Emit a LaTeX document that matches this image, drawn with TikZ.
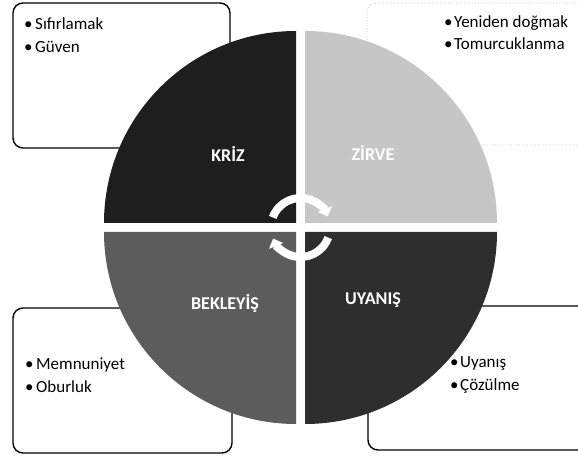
\documentclass[tikz,border=0pt]{standalone}
\usepackage{fontspec}
\setmainfont{Carlito}
\usetikzlibrary{arrows.meta}
\definecolor{krizc}{HTML}{1E1E1E}
\definecolor{zirvec}{HTML}{C6C6C6}
\definecolor{bekc}{HTML}{5C5C5C}
\definecolor{uyanc}{HTML}{2E2E2E}
\begin{document}
\begin{tikzpicture}[x=1pt,y=1pt,
  box/.style={draw=black, line width=1.4pt, rounded corners=10pt, fill=white, inner sep=0pt},
  faintbox/.style={draw=gray!55, line width=0.7pt, dotted, rounded corners=10pt, fill=white, inner sep=0pt},
  item/.style={anchor=base west, inner sep=0pt, font=\fontsize{17}{20}\selectfont},
  lab/.style={font=\bfseries\fontsize{18}{21}\selectfont, text=white, inner sep=0pt},
  cyc/.style={draw=white, line width=8pt, -{Triangle[width=15pt,length=8pt]}}]
\useasboundingbox (0,0) rectangle (578,457);
\clip (0,0) rectangle (578,457);
\fill[white] (0,0) rectangle (578,457);
% boxes
\node[box, minimum width=217pt, minimum height=145pt] (boxTL) at (121.5,381.5) {};
\node[faintbox, minimum width=243pt, minimum height=142pt] (boxTR) at (488.5,383) {};
\node[box, minimum width=219pt, minimum height=145pt] (boxBL) at (122.5,76.5) {};
\node[box, minimum width=242pt, minimum height=144pt] (boxBR) at (489,79) {};
% quadrants
\fill[krizc] (296,234) -- (104,234) arc[start angle=180, end angle=90, radius=192] -- cycle;
\fill[zirvec] (305,234) -- (305,426) arc[start angle=90, end angle=0, radius=192] -- cycle;
\fill[bekc] (296,225) -- (104,225) arc[start angle=180, end angle=270, radius=192] -- cycle;
\fill[uyanc] (305,225) -- (497,225) arc[start angle=0, end angle=-90, radius=192] -- cycle;
% centre arrows
\coordinate (c) at (300.5,229.5);
\draw[cyc] (c) ++(160:29.5) arc[start angle=160, end angle=22, radius=29.5];
\draw[cyc] (c) ++(-20:29.5) arc[start angle=-20, end angle=-158, radius=29.5];
% labels
\node[lab] (kriz) at (228,303) {KRİZ};
\node[lab] (zirve) at (373,304) {ZİRVE};
\node[lab] (bek) at (225,154) {BEKLEYİŞ};
\node[lab] (uyan) at (373,157) {UYANIŞ};
% box texts
\node[item] (tl1) at (24,427) {\makebox[11pt][l]{•}Sıfırlamak};
\node[item] (tl2) at (24,404) {\makebox[11pt][l]{•}Güven};
\node[item] (tr1) at (444,429) {\makebox[10pt][l]{•}Yeniden doğmak};
\node[item] (tr2) at (444,407) {\makebox[10pt][l]{•}Tomurcuklanma};
\node[item] (bl1) at (25,87) {\makebox[11pt][l]{•}Memnuniyet};
\node[item] (bl2) at (25,64) {\makebox[11pt][l]{•}Oburluk};
\node[item] (br1) at (450,89) {\makebox[10pt][l]{•}Uyanış};
\node[item] (br2) at (450,66) {\makebox[10pt][l]{•}Çözülme};
\end{tikzpicture}
\end{document}
